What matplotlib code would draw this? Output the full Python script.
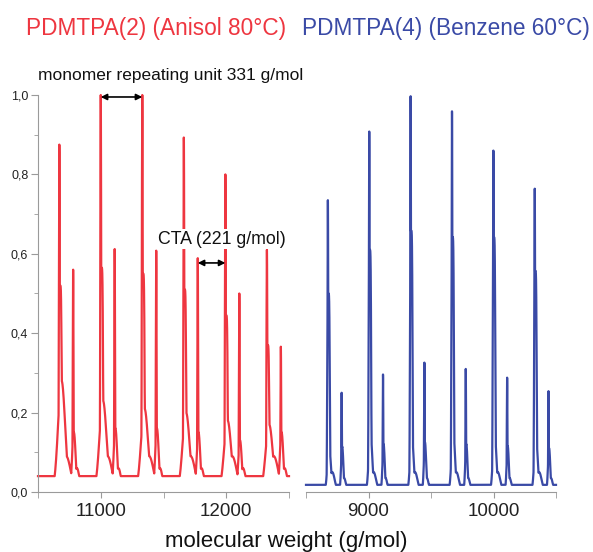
import matplotlib
matplotlib.use("Agg")
import matplotlib.pyplot as plt
from matplotlib.ticker import MultipleLocator, FuncFormatter
import numpy as np

plt.rcParams['font.family'] = ['Liberation Sans', 'DejaVu Sans']

# --- peak tables (g/mol, normalised intensity) ---
red_main_pos      = [10670, 11000, 11331, 11662, 11993, 12324]
red_main_top      = [0.875, 1.0, 1.0, 0.893, 0.80, 0.61]
red_main_shoulder = [0.52, 0.565, 0.55, 0.51, 0.445, 0.37]
red_main_body     = [0.28, 0.23, 0.21, 0.20, 0.18, 0.17]
red_side_pos      = [10780, 11111, 11442, 11773, 12104, 12435]
red_side_top      = [0.56, 0.612, 0.608, 0.589, 0.50, 0.366]
red_side_body     = [0.15, 0.16, 0.16, 0.15, 0.13, 0.15]
red_baseline      = 0.04

blue_main_pos      = [8675, 9006, 9337, 9668, 9999, 10330]
blue_main_top      = [0.735, 0.908, 0.997, 0.959, 0.86, 0.764]
blue_main_shoulder = [0.50, 0.61, 0.658, 0.642, 0.642, 0.557]
blue_main_body     = [0.114, 0.148, 0.14, 0.152, 0.148, 0.136]
blue_side_pos      = [8785, 9116, 9447, 9778, 10109, 10440]
blue_side_top      = [0.25, 0.296, 0.326, 0.31, 0.288, 0.254]
blue_side_body     = [0.114, 0.12, 0.125, 0.12, 0.115, 0.11]
blue_baseline      = 0.018

red_xlim  = (10500, 12500)
blue_xlim = (8500, 10500)
yticks = [0.0, 0.2, 0.4, 0.6, 0.8, 1.0]

monomer_arrow = (11000, 11331, 0.995)
cta_arrow     = (11773, 11993, 0.577)

RED = '#ee3640'
BLUE = '#3a4aa6'
GREY = '#9a9a9a'

# peak shape widths (Da)
red_shape  = dict(nd=3.5, sh=11, sho=7, bd=28, bdo=18, ta=0.09, ts=35, to=55,
                  snd=3.0, sbd=14, sso=6, sta=0.06, sts=20, sto=30)
blue_shape = dict(nd=3.0, sh=10, sho=5, bd=14, bdo=10, ta=0.05, ts=20, to=35,
                  snd=2.5, sbd=9, sso=5, sta=0.035, sts=14, sto=20)


def g(x, c, a, s):
    return a * np.exp(-0.5 * ((x - c) / s) ** 2)


def flat(x, c, a, s):
    return a * np.exp(-0.5 * ((x - c) / s) ** 4)


def spectrum(x, base, mp, mt, ms, mb, sp, st, sb, k):
    # layered peak profile: needle + shoulder + body + tail
    y = np.full_like(x, base)
    for c, t, s, b in zip(mp, mt, ms, mb):
        for comp in (g(x, c, t, k['nd']), flat(x, c + k['sho'], s, k['sh']),
                     g(x, c + k['bdo'], b, k['bd']), g(x, c + k['to'], k['ta'], k['ts'])):
            y = np.maximum(y, comp)
    for c, t, b in zip(sp, st, sb):
        for comp in (g(x, c, t, k['snd']), g(x, c + k['sso'], b, k['sbd']),
                     g(x, c + k['sto'], k['sta'], k['sts'])):
            y = np.maximum(y, comp)
    return y


xr = np.linspace(*red_xlim, 16000)
yr = spectrum(xr, red_baseline, red_main_pos, red_main_top, red_main_shoulder,
              red_main_body, red_side_pos, red_side_top, red_side_body, red_shape)
xb = np.linspace(*blue_xlim, 16000)
yb = spectrum(xb, blue_baseline, blue_main_pos, blue_main_top, blue_main_shoulder,
              blue_main_body, blue_side_pos, blue_side_top, blue_side_body, blue_shape)

fig = plt.figure(figsize=(5.93, 5.52), dpi=100)
axl = fig.add_axes([38/593, 1-492/552, 251/593, 397/552])
axr = fig.add_axes([306/593, 1-492/552, 250/593, 397/552])

axl.plot(xr, yr, color=RED, lw=1.6, clip_on=False, zorder=2)
axr.plot(xb, yb, color=BLUE, lw=1.6, clip_on=False, zorder=2)

comma = FuncFormatter(lambda v, p: f"{v:.1f}".replace('.', ','))
for ax, xl in ((axl, red_xlim), (axr, blue_xlim)):
    ax.set_xlim(*xl)
    ax.set_ylim(0, 1.0)
    for s in ('top', 'right'):
        ax.spines[s].set_visible(False)
    ax.spines['bottom'].set_color(GREY)
    ax.spines['left'].set_color(GREY)
    ax.xaxis.set_major_locator(MultipleLocator(1000))
    ax.xaxis.set_minor_locator(MultipleLocator(500))
    ax.tick_params(axis='x', which='both', direction='out', length=4,
                   color=GREY, labelsize=13.5, pad=4, labelcolor='#222222')

axl.set_yticks(yticks)
axl.yaxis.set_minor_locator(MultipleLocator(0.1))
axl.yaxis.set_major_formatter(comma)
axl.tick_params(axis='y', which='major', direction='out', length=5,
                color=GREY, labelsize=9, pad=2, labelcolor='#222222')
axl.tick_params(axis='y', which='minor', direction='out', length=3, color=GREY)

axr.spines['left'].set_visible(False)
axr.set_yticks([])

# annotations
arrow_kw = dict(arrowstyle='<|-|>', color='black', lw=1.2,
                mutation_scale=9, shrinkA=0, shrinkB=0)
axl.annotate('', xy=(monomer_arrow[0], monomer_arrow[2]),
             xytext=(monomer_arrow[1], monomer_arrow[2]),
             arrowprops=arrow_kw, annotation_clip=False, zorder=6)
axl.annotate('', xy=(cta_arrow[0], cta_arrow[2]),
             xytext=(cta_arrow[1], cta_arrow[2]),
             arrowprops=arrow_kw, annotation_clip=False, zorder=6)
axl.text(11966, 0.637, 'CTA (221 g/mol)', fontsize=12.8, ha='center', va='center',
         color='#111111', zorder=5,
         bbox=dict(facecolor='white', edgecolor='none', pad=1))

fig.text(156/593, 1-28/552, 'PDMTPA(2) (Anisol 80°C)', color=RED,
         fontsize=16.3, ha='center', va='center')
fig.text(446/593, 1-28/552, 'PDMTPA(4) (Benzene 60°C)', color=BLUE,
         fontsize=16.3, ha='center', va='center')
fig.text(171/593, 1-76/552, 'monomer repeating unit 331 g/mol', color='#111111',
         fontsize=12.5, ha='center', va='center')
fig.text(286/593, 1-542/552, 'molecular weight (g/mol)', color='#111111',
         fontsize=16, ha='center', va='center')

fig.savefig('out.png', dpi=100)
